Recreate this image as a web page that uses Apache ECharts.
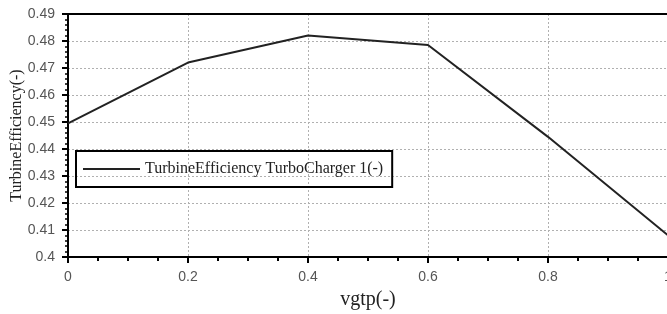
<!DOCTYPE html>
<html>
<head>
<meta charset="utf-8">
<script src="https://cdn.jsdelivr.net/npm/echarts@6/dist/echarts.min.js"></script>
<style>html,body{margin:0;padding:0;background:#fff}#c{width:667px;height:314px}</style>
</head>
<body>
<div id="c"></div>
<script>
const xValues = [0, 0.2, 0.4, 0.6, 0.8, 1];
const efficiency = [0.4495, 0.472, 0.482, 0.4785, 0.4445, 0.408];
const seriesName = 'TurbineEfficiency TurboCharger 1(-)';
const xTitle = 'vgtp(-)';
const yTitle = 'TurbineEfficiency(-)';

const chart = echarts.init(document.getElementById('c'), null, {renderer: 'canvas'});
const gridLine = {show: true, lineStyle: {color: '#b0b0b0', width: 1, type: [2, 2]}};
chart.setOption({
  animation: false,
  backgroundColor: '#fff',
  grid: {left: 68, top: 14, width: 600, height: 243, containLabel: false, outerBoundsMode: 'none'},
  legend: {
    left: 76, top: 151,
    orient: 'vertical',
    borderColor: '#000', borderWidth: 2,
    padding: [10, 9, 10, 7],
    itemWidth: 57, itemHeight: 14, itemGap: 0,
    icon: 'path://M0,6 L57,6 L57,8 L0,8 Z',
    textStyle: {fontFamily: 'Liberation Serif', fontSize: 16, color: '#222'},
    data: [seriesName]
  },
  xAxis: [{
    type: 'value', min: 0, max: 1, interval: 0.2,
    name: xTitle, nameLocation: 'middle', nameGap: 33, nameMoveOverlap: false,
    nameTextStyle: {fontFamily: 'Liberation Serif', fontSize: 20, color: '#222'},
    axisLine: {show: true, onZero: false, lineStyle: {color: '#000', width: 2}},
    axisTick: {show: true, length: 6, lineStyle: {color: '#000', width: 2}},
    minorTick: {show: true, splitNumber: 4, length: 4, lineStyle: {color: '#000', width: 2}},
    axisLabel: {fontFamily: 'Liberation Sans', fontSize: 14, color: '#555', margin: 13,
      formatter: v => String(+v.toFixed(2))},
    splitLine: gridLine
  }, {
    type: 'value', position: 'top', min: 0, max: 1,
    axisLine: {show: true, onZero: false, lineStyle: {color: '#000', width: 2}},
    axisTick: {show: false}, axisLabel: {show: false}, splitLine: {show: false}
  }],
  yAxis: {
    type: 'value', min: 0.4, max: 0.49, interval: 0.01,
    name: yTitle, nameLocation: 'middle', nameGap: 43, nameRotate: 90, nameMoveOverlap: false,
    nameTextStyle: {fontFamily: 'Liberation Serif', fontSize: 16, color: '#222'},
    axisLine: {show: true, onZero: false, lineStyle: {color: '#000', width: 2}},
    axisTick: {show: true, length: 6, lineStyle: {color: '#000', width: 2}},
    minorTick: {show: true, splitNumber: 5, length: 3, lineStyle: {color: '#000', width: 1.5}},
    axisLabel: {fontFamily: 'Liberation Sans', fontSize: 14, color: '#555', margin: 13,
      formatter: v => String(+v.toFixed(2))},
    splitLine: gridLine
  },
  series: [{
    name: seriesName, type: 'line',
    data: xValues.map((x, i) => [x, efficiency[i]]),
    showSymbol: false, symbol: 'none',
    lineStyle: {color: '#222', width: 2},
    itemStyle: {color: '#222'}
  }]
});
</script>
</body>
</html>
